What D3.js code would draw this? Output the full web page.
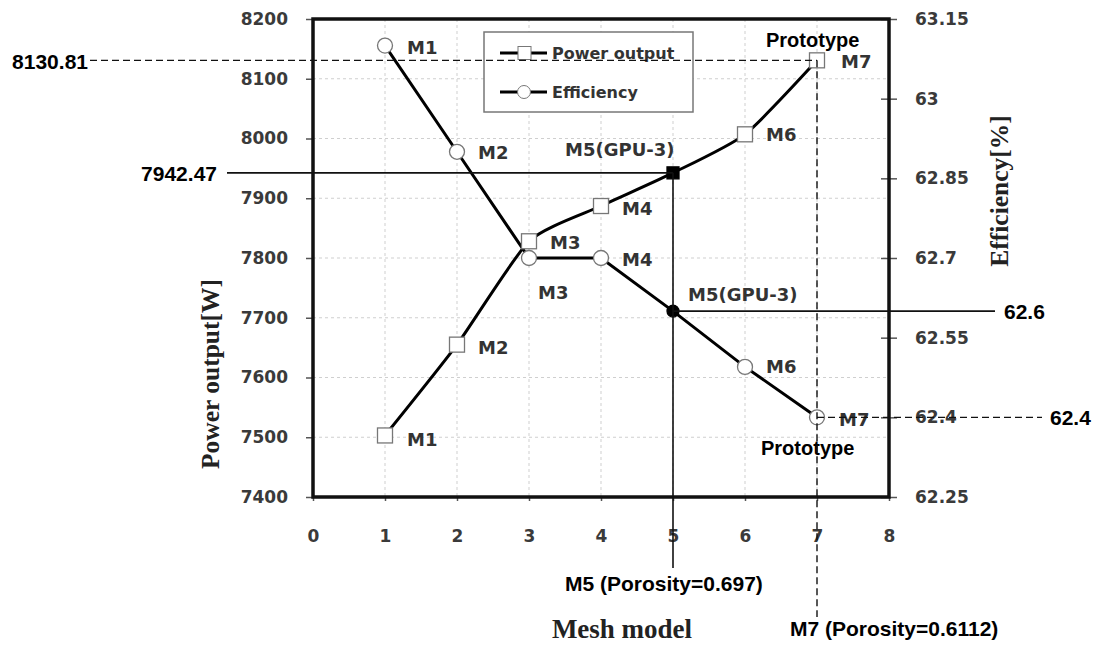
<!DOCTYPE html>
<html>
<head>
<meta charset="utf-8">
<script src="https://cdn.jsdelivr.net/npm/d3@7"></script>
<style>
body { margin: 0; background: #fff; }
</style>
</head>
<body>
<script>
// chart data
var models = ["M1", "M2", "M3", "M4", "M5", "M6", "M7"];
var meshX = [1, 2, 3, 4, 5, 6, 7];
var power = [7503, 7655, 7828, 7887, 7942.47, 8007, 8130.81];
var efficiency = [63.1, 62.9, 62.7, 62.7, 62.6, 62.495, 62.4];
var xTicks = [0, 1, 2, 3, 4, 5, 6, 7, 8];
var leftTicks = [7400, 7500, 7600, 7700, 7800, 7900, 8000, 8100, 8200];
var rightTicks = [62.25, 62.4, 62.55, 62.7, 62.85, 63, 63.15];

var w = 1100, h = 645;
// plot box (window.top is read-only, so use other names)
var pL = 313, pR = 889, pT = 19, pB = 497;

var svg = d3.select("body").append("svg")
    .attr("width", w)
    .attr("height", h);

var x = d3.scaleLinear().domain([0, 8]).range([pL, pR]);
var yP = d3.scaleLinear().domain([7400, 8200]).range([pB, pT]);
var yE = d3.scaleLinear().domain([62.25, 63.15]).range([pB, pT]);

var tickFont = "'DejaVu Sans', Verdana, sans-serif";
var refFont = "'Liberation Sans', Arial, sans-serif";
var serif = "'Liberation Serif', 'Times New Roman', serif";

// grid
svg.append("g").selectAll("line").data(xTicks.slice(1, -1)).enter().append("line")
    .attr("x1", d => x(d)).attr("x2", d => x(d))
    .attr("y1", pT).attr("y2", pB)
    .attr("stroke", "#cfcfcf").attr("stroke-dasharray", "3,3");
svg.append("g").selectAll("line").data(leftTicks.slice(1, -1)).enter().append("line")
    .attr("x1", pL).attr("x2", pR)
    .attr("y1", d => yP(d)).attr("y2", d => yP(d))
    .attr("stroke", "#cfcfcf").attr("stroke-dasharray", "3,3");

// axes
var axL = svg.append("g").attr("transform", "translate(" + pL + ",0)")
    .call(d3.axisLeft(yP).tickValues(leftTicks).tickSize(7).tickPadding(18)
        .tickFormat(d3.format("d")));
var axR = svg.append("g").attr("transform", "translate(" + pR + ",0)")
    .call(d3.axisRight(yE).tickValues(rightTicks).tickSize(8).tickPadding(18)
        .tickFormat(d3.format("")));
var axB = svg.append("g").attr("transform", "translate(0," + pB + ")")
    .call(d3.axisBottom(x).tickValues(xTicks).tickSize(4).tickPadding(29));
[axL, axR, axB].forEach(function(a) {
    a.select(".domain").remove();
    a.selectAll(".tick line").attr("stroke", "#555").attr("stroke-width", 1.5);
    a.selectAll("text").attr("font-family", tickFont).attr("font-weight", 700)
        .attr("font-size", 17).attr("fill", "#3a3a3a");
});
// right ticks cross the border
axR.selectAll(".tick line").attr("x1", -8);

// plot border
svg.append("rect")
    .attr("x", pL).attr("y", pT)
    .attr("width", pR - pL).attr("height", pB - pT)
    .attr("fill", "none").attr("stroke", "#111").attr("stroke-width", 3.5);

// series lines
var pts = meshX.map((d, i) => ({x: d, p: power[i], e: efficiency[i], m: models[i], i: i}));
svg.append("path").datum(pts)
    .attr("d", d3.line().x(d => x(d.x)).y(d => yP(d.p)).curve(d3.curveCardinal.tension(0.4)))
    .attr("fill", "none").attr("stroke", "#000").attr("stroke-width", 3);
svg.append("path").datum(pts)
    .attr("d", d3.line().x(d => x(d.x)).y(d => yE(d.e)))
    .attr("fill", "none").attr("stroke", "#000").attr("stroke-width", 3);

// markers
svg.append("g").selectAll("rect").data(pts).enter().append("rect")
    .attr("x", d => x(d.x) - (d.i === 4 ? 6 : 7.5)).attr("y", d => yP(d.p) - (d.i === 4 ? 6 : 7.5))
    .attr("width", d => d.i === 4 ? 12 : 15).attr("height", d => d.i === 4 ? 12 : 15)
    .attr("fill", d => d.i === 4 ? "#000" : "#fff")
    .attr("stroke", d => d.i === 4 ? "#000" : "#777").attr("stroke-width", 1.3);
svg.append("g").selectAll("circle").data(pts).enter().append("circle")
    .attr("cx", d => x(d.x)).attr("cy", d => yE(d.e))
    .attr("r", d => d.i === 4 ? 6 : 7.5)
    .attr("fill", d => d.i === 4 ? "#000" : "#fff")
    .attr("stroke", d => d.i === 4 ? "#000" : "#777").attr("stroke-width", 1.3);

// point labels (offsets from marker: dx, dy to text middle)
var pOff = [[22, 4], [21, 3], [21, 1], [21, 2], null, [21, 0], [24, 1]];
var eOff = [[22, 2], [21, 1], [9, 34], [21, 1], null, [21, 0], [22, 2]];
var labels = svg.append("g");
pts.forEach(function(d) {
    if (pOff[d.i]) labels.append("text").attr("x", x(d.x) + pOff[d.i][0])
        .attr("y", yP(d.p) + pOff[d.i][1]).text(d.m);
    if (eOff[d.i]) labels.append("text").attr("x", x(d.x) + eOff[d.i][0])
        .attr("y", yE(d.e) + eOff[d.i][1]).text(d.m);
});
labels.append("text").attr("x", x(5) - 108).attr("y", yP(power[4]) - 23).text("M5(GPU-3)");
labels.append("text").attr("x", x(5) + 15).attr("y", yE(efficiency[4]) - 17).text("M5(GPU-3)");
labels.selectAll("text")
    .attr("dominant-baseline", "central")
    .attr("font-family", tickFont).attr("font-size", 18).attr("font-weight", 700).attr("fill", "#333");

// prototype labels
svg.append("text").attr("x", x(7) - 51).attr("y", 47).text("Prototype")
    .attr("font-family", refFont).attr("font-weight", 700).attr("font-size", 20).attr("fill", "#000");
svg.append("text").attr("x", x(7) - 56).attr("y", 455).text("Prototype")
    .attr("font-family", refFont).attr("font-weight", 700).attr("font-size", 20).attr("fill", "#000");

// axis titles
svg.append("text").attr("transform", "translate(219,374) rotate(-90)")
    .attr("text-anchor", "middle").text("Power output[W]")
    .attr("font-family", serif).attr("font-weight", 700).attr("font-size", 25.5).attr("fill", "#222");
svg.append("text").attr("transform", "translate(1008,191) rotate(-90)")
    .attr("text-anchor", "middle").text("Efficiency[%]")
    .attr("font-family", serif).attr("font-weight", 700).attr("font-size", 25.5).attr("fill", "#222");
svg.append("text").attr("x", 622).attr("y", 638)
    .attr("text-anchor", "middle").text("Mesh model")
    .attr("font-family", serif).attr("font-weight", 700).attr("font-size", 27).attr("fill", "#222");

// legend
var lg = svg.append("g");
lg.append("rect").attr("x", 484).attr("y", 32).attr("width", 209).attr("height", 80)
    .attr("fill", "#fff").attr("stroke", "#777").attr("stroke-width", 1.5);
var legendItems = [{name: "Power output", y: 53, shape: "sq"}, {name: "Efficiency", y: 92, shape: "ci"}];
legendItems.forEach(function(it) {
    lg.append("line").attr("x1", 500).attr("x2", 547).attr("y1", it.y).attr("y2", it.y)
        .attr("stroke", "#000").attr("stroke-width", 3);
    if (it.shape === "sq") lg.append("rect").attr("x", 518).attr("y", it.y - 6.5)
        .attr("width", 13).attr("height", 13).attr("fill", "#fff").attr("stroke", "#777");
    else lg.append("circle").attr("cx", 524).attr("cy", it.y).attr("r", 6.5)
        .attr("fill", "#fff").attr("stroke", "#777");
    lg.append("text").attr("x", 552).attr("y", it.y).text(it.name)
        .attr("dominant-baseline", "central")
        .attr("font-family", tickFont).attr("font-weight", 700)
        .attr("font-size", 16).attr("fill", "#333");
});

// reference lines, drawn over everything as in the original
var xm5 = x(meshX[4]), xm7 = x(meshX[6]);
var ref = svg.append("g").attr("stroke", "#111");
ref.append("line").attr("x1", 90).attr("x2", xm7)
    .attr("y1", yP(power[6])).attr("y2", yP(power[6]))
    .attr("stroke-width", 1.4).attr("stroke-dasharray", "7,4");
ref.append("line").attr("x1", xm7).attr("x2", xm7)
    .attr("y1", yP(power[6])).attr("y2", 617)
    .attr("stroke-width", 1.4).attr("stroke-dasharray", "7,4");
ref.append("line").attr("x1", xm7).attr("x2", 1042)
    .attr("y1", yE(efficiency[6])).attr("y2", yE(efficiency[6]))
    .attr("stroke-width", 1.4).attr("stroke-dasharray", "7,4");
ref.append("line").attr("x1", 227).attr("x2", xm5)
    .attr("y1", yP(power[4])).attr("y2", yP(power[4]))
    .attr("stroke-width", 1.6);
ref.append("line").attr("x1", xm5).attr("x2", xm5)
    .attr("y1", yP(power[4])).attr("y2", 568)
    .attr("stroke-width", 1.6);
ref.append("line").attr("x1", xm5).attr("x2", 995)
    .attr("y1", yE(efficiency[4])).attr("y2", yE(efficiency[4]))
    .attr("stroke-width", 1.6);

// reference values
function refLabel(tx, ty, s, anchor) {
    svg.append("text").attr("x", tx).attr("y", ty).text(s)
        .attr("text-anchor", anchor || "start")
        .attr("font-family", refFont).attr("font-weight", 700)
        .attr("font-size", 21).attr("fill", "#000");
}
refLabel(88, yP(power[6]) + 9, d3.format(".2f")(power[6]), "end");
refLabel(217, yP(power[4]) + 8, d3.format(".2f")(power[4]), "end");
refLabel(1004, yE(efficiency[4]) + 8, String(efficiency[4]));
refLabel(1050, yE(efficiency[6]) + 8, String(efficiency[6]));
refLabel(565, 591, "M5 (Porosity=0.697)");
refLabel(790, 636, "M7 (Porosity=0.6112)");
</script>
</body>
</html>
